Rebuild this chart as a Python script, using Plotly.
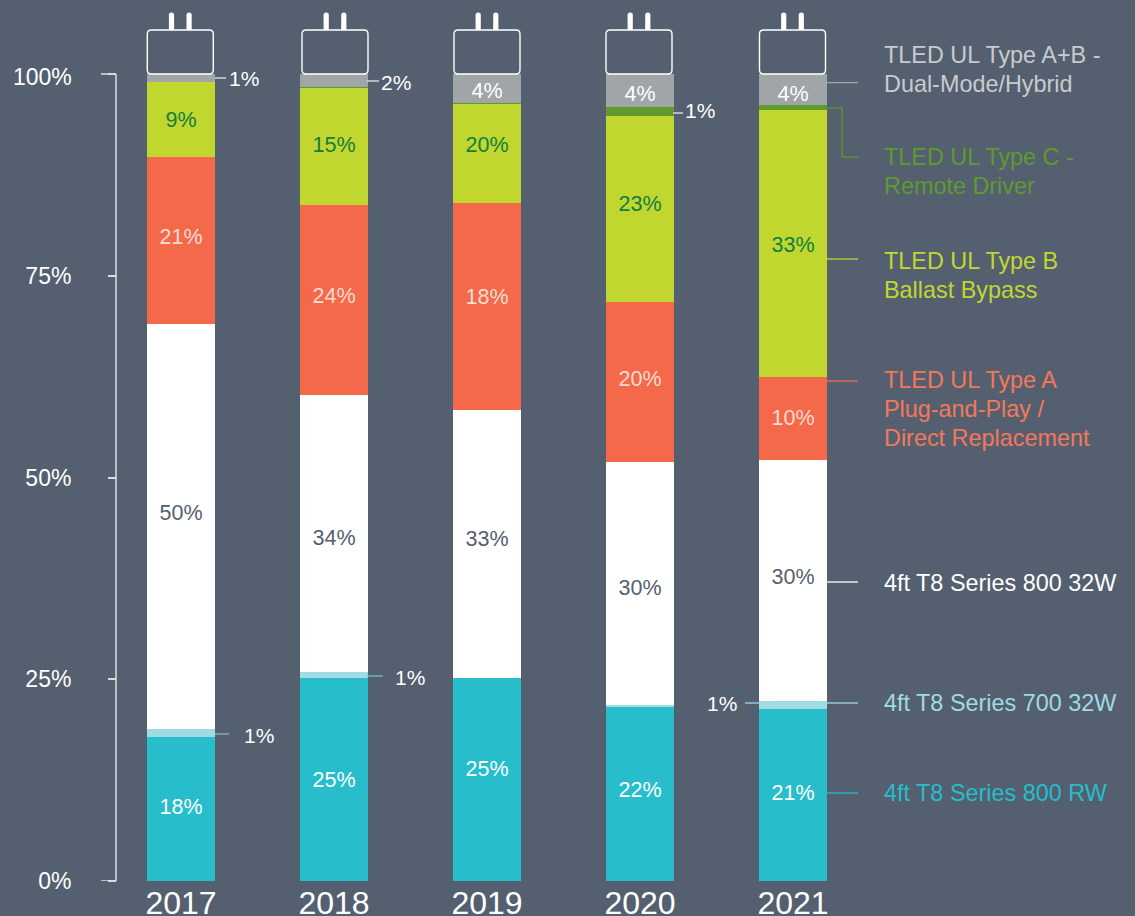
import plotly.graph_objects as go

years = [2017, 2018, 2019, 2020, 2021]
series_names = ["4ft T8 Series 800 RW", "4ft T8 Series 700 32W", "4ft T8 Series 800 32W",
                "TLED UL Type A", "TLED UL Type B", "TLED UL Type C", "TLED UL Type A+B"]
rw      = [17.8, 25.15, 25.15, 21.6, 21.3]
t700    = [1.0, 0.75, 0.0, 0.25, 1.0]
t800    = [50.2, 34.3, 33.25, 30.1, 29.9]
type_a  = [20.7, 23.6, 25.6, 19.8, 10.2]
type_b  = [9.3, 14.5, 12.3, 23.1, 33.2]
type_c  = [0.0, 0.1, 0.05, 1.0, 0.5]
type_ab = [1.0, 1.6, 3.65, 4.15, 3.9]
values = [rw, t700, t800, type_a, type_b, type_c, type_ab]
colors = ["#27BDCB", "#A0DAE2", "#FFFFFF", "#F4694A", "#C1D72F", "#5E9A2E", "#A0A5A8"]

# printed labels and the heights where they sit
lab_rw = ["18%", "25%", "25%", "22%", "21%"]
lab_rw_y = [8.95, 12.35, 13.65, 11.05, 10.75]
lab_800 = ["50%", "34%", "33%", "30%", "30%"]
lab_800_y = [45.45, 42.35, 42.15, 36.15, 37.45]
lab_a = ["21%", "24%", "18%", "20%", "10%"]
lab_a_y = [79.65, 72.35, 72.15, 61.95, 57.15]
lab_b = ["9%", "15%", "20%", "23%", "33%"]
lab_b_y = [94.15, 91.05, 90.95, 83.65, 78.55]
lab_ab = ["4%", "4%", "4%"]
lab_ab_x = [2019, 2020, 2021]
lab_ab_y = [97.75, 97.35, 97.35]

BG = "#546070"
FONT = "Liberation Sans"
W, H = 1135, 916
Y0, PX_PER = 881, 8.07
X0, STEP = 181, 153


def dx(px):
    return 2017 + (px - X0) / STEP


def dy(px):
    return (Y0 - px) / PX_PER


fig = go.Figure()
for name, vals, col in zip(series_names, values, colors):
    fig.add_bar(x=years, y=vals, name=name, marker=dict(color=col, line=dict(width=0)),
                width=68 / STEP, hoverinfo="skip")

for xs, ys, txt, col in [
    (years, lab_rw_y, lab_rw, "#FFFFFF"),
    (years, lab_800_y, lab_800, "#546070"),
    (years, lab_a_y, lab_a, "#FBDCD3"),
    (years, lab_b_y, lab_b, "#0F7F3E"),
    (lab_ab_x, lab_ab_y, lab_ab, "#FFFFFF"),
]:
    fig.add_scatter(x=xs, y=ys, text=txt, mode="text", textposition="middle center",
                    textfont=dict(family=FONT, size=21.5, color=col), cliponaxis=False,
                    showlegend=False, hoverinfo="skip")

shapes = []


def seg(x1, y1, x2, y2, col, w=1.3):
    shapes.append(dict(type="line", xref="x", yref="y", x0=dx(x1), y0=dy(y1), x1=dx(x2), y1=dy(y2),
                       line=dict(color=col, width=w), layer="above"))


# y axis bracket
seg(116, 74, 116, 881, "#DADDE0", 1.5)
seg(101, 74, 116, 74, "#DADDE0", 1.5)
seg(101, 881, 116, 881, "#DADDE0", 1.5)

# lamp caps
plug_centres = [180.3, 335, 487, 639, 792.5]
for c in plug_centres:
    for off in (-8.8, 8.8):
        xa, xb = dx(c + off - 2.6), dx(c + off + 2.6)
        shapes.append(dict(type="path", xref="x", yref="y", line=dict(width=0), fillcolor="#FFFFFF",
                           layer="above",
                           path=f"M{xa},{dy(30)} L{xa},{dy(15)} Q{xa},{dy(12.5)} {dx(c+off)},{dy(12.5)} "
                                f"Q{xb},{dy(12.5)} {xb},{dy(15)} L{xb},{dy(30)} Z"))
    l, r, t, b, k = c - 33, c + 33, 30, 74, 4
    shapes.append(dict(type="path", xref="x", yref="y", line=dict(color="#FFFFFF", width=1.4),
                       fillcolor=BG, layer="above",
                       path=f"M{dx(l+k)},{dy(t)} L{dx(r-k)},{dy(t)} Q{dx(r)},{dy(t)} {dx(r)},{dy(t+k)} "
                            f"L{dx(r)},{dy(b-k)} Q{dx(r)},{dy(b)} {dx(r-k)},{dy(b)} "
                            f"L{dx(l+k)},{dy(b)} Q{dx(l)},{dy(b)} {dx(l)},{dy(b-k)} "
                            f"L{dx(l)},{dy(t+k)} Q{dx(l)},{dy(t)} {dx(l+k)},{dy(t)} Z"))

# leaders
seg(215, 78, 226, 78, "#E6E8EA")
seg(367, 81, 379, 81, "#E6E8EA")
seg(215, 734, 229, 734, "#7FB8C2")
seg(367, 676, 383, 676, "#7FB8C2")
seg(673, 113, 683, 113, "#E6E8EA")
seg(745, 703, 759, 703, "#A0DAE2")
seg(827, 82.6, 858, 82.6, "#A0A5A8")
seg(827, 108, 842, 108, "#5E9A2E")
seg(842, 108, 842, 157, "#5E9A2E")
seg(842, 157, 858, 157, "#5E9A2E")
seg(827, 259, 858, 259, "#C1D72F")
seg(827, 381, 858, 381, "#F4694A")
seg(827, 582, 858, 582, "#FFFFFF")
seg(827, 703, 858, 703, "#A0DAE2")
seg(827, 793, 858, 793, "#27BDCB")

annotations = []


def note(px, py, text, col, size, anchor="left"):
    annotations.append(dict(xref="x", yref="y", x=dx(px - 2 if anchor == "left" else px + 2), y=dy(py),
                            text=text, showarrow=False, xanchor=anchor, yanchor="middle", align=anchor,
                            font=dict(family=FONT, size=size, color=col)))


# small outside labels
note(229, 78, "1%", "#FFFFFF", 21)
note(381, 82, "2%", "#FFFFFF", 21)
note(244, 735, "1%", "#FFFFFF", 21)
note(395, 677, "1%", "#FFFFFF", 21)
note(685, 110, "1%", "#FFFFFF", 21)
note(707, 703, "1%", "#FFFFFF", 21)

# top tick label sits a little below its tick
note(72, 77, "100%", "#FFFFFF", 23, anchor="right")

# right-hand key
LEG = 23.4
note(884, 55, "TLED UL Type A+B -", "#C8CBCE", LEG)
note(884, 84, "Dual-Mode/Hybrid", "#C8CBCE", LEG)
note(884, 157, "TLED UL Type C -", "#5E9A2E", LEG)
note(884, 186, "Remote Driver", "#5E9A2E", LEG)
note(884, 261, "TLED UL Type B", "#C1D72F", LEG)
note(884, 290, "Ballast Bypass", "#C1D72F", LEG)
note(884, 380, "TLED UL Type A", "#F5775A", LEG)
note(884, 409, "Plug-and-Play /", "#F5775A", LEG)
note(884, 438, "Direct Replacement", "#F5775A", LEG)
note(884, 583, "4ft T8 Series 800 32W", "#FFFFFF", LEG)
note(884, 703, "4ft T8 Series 700 32W", "#A0DAE2", LEG)
note(884, 793, "4ft T8 Series 800 RW", "#27BDCB", LEG)

fig.update_layout(
    width=W, height=H, autosize=False, barmode="stack", bargap=0, showlegend=False,
    paper_bgcolor=BG, plot_bgcolor="rgba(0,0,0,0)",
    margin=dict(l=0, r=0, t=0, b=H - Y0, pad=0),
    shapes=shapes, annotations=annotations,
    xaxis=dict(range=[dx(0), dx(W)], tickmode="array", tickvals=years, ticktext=[str(y) for y in years],
               showgrid=False, zeroline=False, showline=False, ticks="", automargin=False,
               tickfont=dict(family=FONT, size=32, color="#FFFFFF")),
    yaxis=dict(range=[0, Y0 / PX_PER], tickmode="array", tickvals=[0, 25, 50, 75, 100],
               ticktext=["0%", "25%", "50%", "75%", ""], anchor="free", position=116 / W,
               showgrid=False, zeroline=False, showline=False, ticks="outside", ticklen=8, tickwidth=1.5,
               tickcolor="#DADDE0", ticklabelstandoff=32, automargin=False,
               tickfont=dict(family=FONT, size=23, color="#FFFFFF")),
)

fig.write_html("out.html", config=dict(displayModeBar=False),
               post_script="document.body.style.margin='0';document.documentElement.style.overflow='hidden';")
